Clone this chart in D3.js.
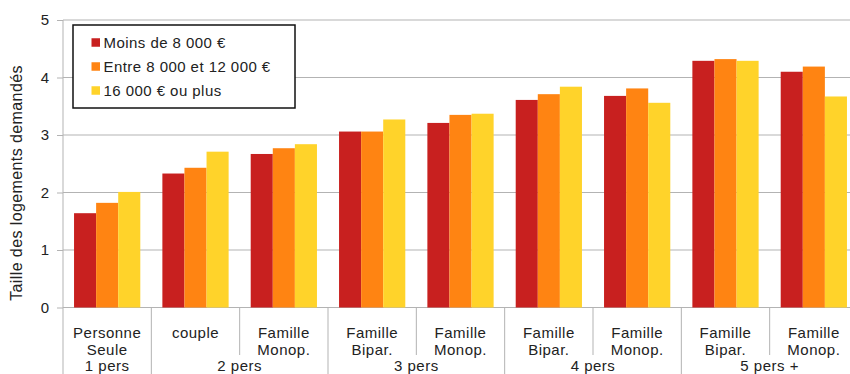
<!DOCTYPE html>
<html>
<head>
<meta charset="utf-8">
<script src="https://cdn.jsdelivr.net/npm/d3@7"></script>
<style>
  html, body { margin: 0; padding: 0; background: #fff; }
  svg { display: block; }
  text { font-family: "Liberation Sans", Arial, sans-serif; fill: #222; }
</style>
</head>
<body>
<svg id="chart" width="850" height="374"></svg>
<script>
// ---- data ----
const categories = [
  ["Personne", "Seule"],
  ["couple"],
  ["Famille", "Monop."],
  ["Famille", "Bipar."],
  ["Famille", "Monop."],
  ["Famille", "Bipar."],
  ["Famille", "Monop."],
  ["Famille", "Bipar."],
  ["Famille", "Monop."]
];
const groups = ["1 pers", "2 pers", "3 pers", "4 pers", "5 pers +"];
const groupSpans = [1, 2, 2, 2, 2];
const seriesNames = ["Moins de 8 000 €", "Entre 8 000 et 12 000 €", "16 000 € ou plus"];
const seriesColors = ["#C8201F", "#FF8412", "#FFD32A"];
const lowIncome  = [1.64, 2.33, 2.67, 3.06, 3.21, 3.61, 3.68, 4.29, 4.10];
const midIncome  = [1.82, 2.43, 2.77, 3.06, 3.35, 3.71, 3.81, 4.32, 4.19];
const highIncome = [2.01, 2.71, 2.84, 3.27, 3.37, 3.84, 3.56, 4.29, 3.67];
const yTicks = [0, 1, 2, 3, 4, 5];
const yTitle = "Taille des logements demandés";

// ---- layout ----
const svg = d3.select("#chart");
const mLeft = 63, mRight = 858, mTop = 20, mBottom = 307.5;
const idx = categories.map((d, i) => i);
const x = d3.scaleBand().domain(idx).range([mLeft, mRight]).paddingInner(0.25).paddingOuter(0.125);
const step = x.step();
const xs = d3.scaleBand().domain([0, 1, 2]).range([0, x.bandwidth()]);
const y = d3.scaleLinear().domain([0, 5]).range([mBottom, mTop]);
const values = [lowIncome, midIncome, highIncome];

// gridlines
svg.append("g").selectAll("line").data(yTicks).join("line")
  .attr("x1", mLeft).attr("x2", 850)
  .attr("y1", d => y(d)).attr("y2", d => y(d))
  .attr("stroke", "#b3b3b3").attr("stroke-width", 1);

// y axis
const yAxis = d3.axisLeft(y).tickValues(yTicks).tickSize(6).tickPadding(8).tickFormat(d3.format("d"));
const ya = svg.append("g").attr("transform", `translate(${mLeft},0)`).call(yAxis);
ya.select(".domain").remove();
ya.selectAll(".tick line").attr("stroke", "#b3b3b3");
ya.selectAll(".tick text").style("font-size", "15px").style("font-family", "Liberation Sans, Arial, sans-serif").attr("fill", "#222");
svg.append("line").attr("x1", mLeft).attr("x2", mLeft).attr("y1", mTop).attr("y2", 374)
  .attr("stroke", "#b3b3b3");

// bars
values.forEach((vals, s) => {
  svg.append("g").selectAll("rect").data(vals).join("rect")
    .attr("x", (d, i) => x(i) + xs(s))
    .attr("width", xs.bandwidth())
    .attr("y", d => y(d))
    .attr("height", d => y(0) - y(d))
    .attr("fill", seriesColors[s]);
});

// separators between categories
let groupEnd = [];
let acc = 0;
groupSpans.forEach(n => { acc += n; groupEnd.push(acc); });
for (let i = 1; i < categories.length; i++) {
  const xx = mLeft + i * step;
  const isGroup = groupEnd.includes(i);
  svg.append("line").attr("x1", xx).attr("x2", xx)
    .attr("y1", mBottom).attr("y2", isGroup ? 374 : 355)
    .attr("stroke", "#b3b3b3");
}

// category labels
categories.forEach((lines, i) => {
  const cx = x(i) + x.bandwidth() / 2;
  lines.forEach((t, j) => {
    svg.append("text").attr("x", cx).attr("y", 338 + j * 17)
      .attr("text-anchor", "middle").style("font-size", "15px")
      .style("letter-spacing", "0.5px").text(t);
  });
});
// group labels
let start = 0;
groups.forEach((g, k) => {
  const n = groupSpans[k];
  const cx = mLeft + (start + n / 2) * step;
  svg.append("text").attr("x", cx).attr("y", 371)
    .attr("text-anchor", "middle").style("font-size", "15px")
    .style("letter-spacing", "0.5px").text(g);
  start += n;
});

// y title
svg.append("text")
  .attr("transform", `translate(22,${183}) rotate(-90)`)
  .attr("text-anchor", "middle").style("font-size", "16px")
  .style("letter-spacing", "0.4px").text(yTitle);

// legend
const lg = svg.append("g");
lg.append("rect").attr("x", 73).attr("y", 25).attr("width", 222).attr("height", 83)
  .attr("fill", "#fff").attr("stroke", "#111").attr("stroke-width", 1.5);
seriesNames.forEach((name, s) => {
  const cy = 42.5 + s * 24;
  lg.append("rect").attr("x", 91.5).attr("y", cy - 4.25).attr("width", 8.5).attr("height", 8.5).attr("fill", seriesColors[s]);
  lg.append("text").attr("x", 103.5).attr("y", cy + 5.5).style("font-size", "15px")
    .style("letter-spacing", "0.45px").text(name);
});
</script>
</body>
</html>
